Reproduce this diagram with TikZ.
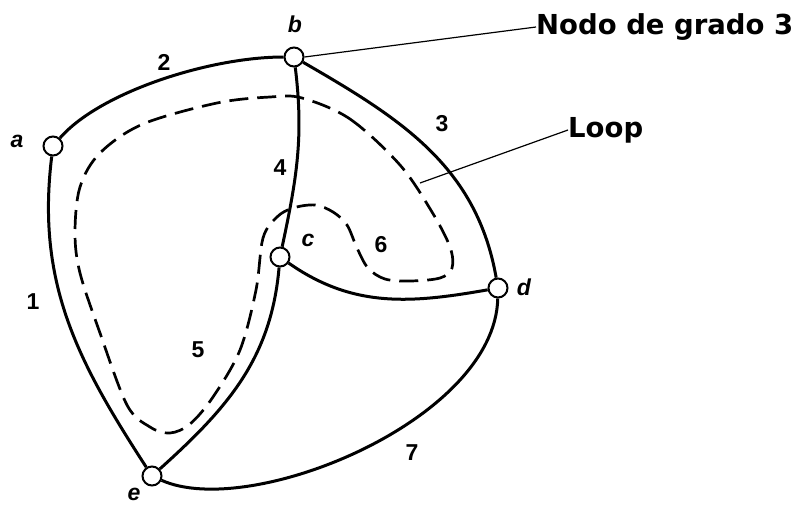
\documentclass[tikz,border=0pt]{standalone}
\usepackage{fontspec}
\setmainfont{Liberation Sans}
\newfontfamily\callout{DejaVu Sans}
\begin{document}
\begin{tikzpicture}[x=1pt,y=-1pt,
  vtx/.style={circle,draw,line width=2pt,fill=white,minimum size=19pt,inner sep=0pt},
  edge/.style={line width=3pt},
  loopline/.style={line width=2.7pt,dash pattern=on 19pt off 9pt},
  lead/.style={line width=1.2pt},
  vlab/.style={font=\fontsize{23}{23}\selectfont\itshape},
  elab/.style={font=\fontsize{23}{23}\selectfont},
  clab/.style={font=\fontsize{27.5}{27.5}\selectfont\callout\bfseries,anchor=west,inner sep=0pt}]
\useasboundingbox (0,0) rectangle (798,504);
% dashed loop
\draw[loopline] plot[smooth cycle,tension=0.55] coordinates {
 (302,98) (350,119) (400,165) (432,212) (450,247) (452,268) (440,278) (410,281)
 (385,279) (368,268) (357,248) (347,225) (333,212) (315,205) (293,208) (277,217)
 (263,238) (256,290) (240,350) (213,397) (190,424) (170,433) (150,427) (127,405)
 (100,333) (80,273) (75,233) (80,187) (100,153) (143,124) (217,103) (270,97)};
% vertices
\node[vtx] (a) at (53,146) {};
\node[vtx] (b) at (294,57) {};
\node[vtx] (c) at (280,257) {};
\node[vtx] (d) at (498,288) {};
\node[vtx] (e) at (152,476) {};
% edges
\draw[edge] (a) .. controls (100,92) and (210,57) .. (b);
\draw[edge] (a) to[out=-97,in=123] (e);
\draw[edge] (b) to[out=-83,in=78] (c);
\draw[edge] (b) to[out=-30,in=100] (d);
\draw[edge] (c) to[out=-35,in=190] (d);
\draw[edge] (c) to[out=-95,in=42] (e);
\draw[edge] (e) .. controls (250,520) and (495,420) .. (d);
% vertex labels
\node[vlab] (la) at (17,141) {\bfseries a};
\node[vlab] (lb) at (295,24) {\bfseries b};
\node[vlab] (lc) at (308,240) {\bfseries c};
\node[vlab] (ld) at (524,287) {\bfseries d};
\node[vlab] (le) at (134,494) {\bfseries e};
% edge labels
\node[elab] (n1) at (33,302) {\bfseries 1};
\node[elab] (n2) at (164,62) {\bfseries 2};
\node[elab] (n3) at (442,124) {\bfseries 3};
\node[elab] (n4) at (280,168) {\bfseries 4};
\node[elab] (n5) at (198,350) {\bfseries 5};
\node[elab] (n6) at (381,245) {\bfseries 6};
\node[elab] (n7) at (412,453) {\bfseries 7};
% callouts
\node[clab] (nodo) at (536,27) {Nodo de grado 3};
\node[clab] (lp) at (568,130) {Loop};
\coordinate (lpend) at (420,183);
\draw[lead] (b.east) -- (nodo.west);
\draw[lead] (lpend) -- (lp.west);
\end{tikzpicture}
\end{document}
